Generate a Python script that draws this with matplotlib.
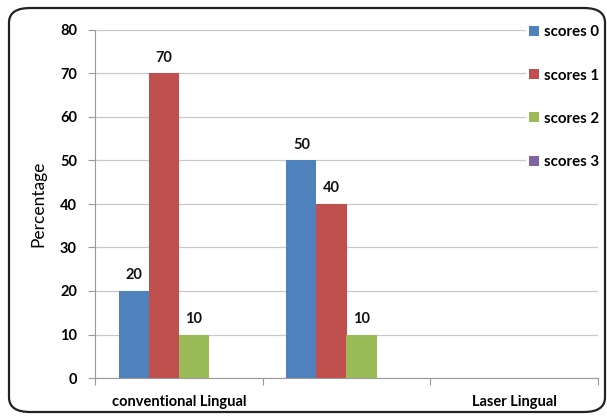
import numpy as np
import matplotlib.pyplot as plt
from matplotlib.patches import Patch, FancyBboxPatch

groups = ["conventional Lingual", "", "Laser Lingual"]
series = ["scores 0", "scores 1", "scores 2", "scores 3"]
scores0 = [20, 50, 0]
scores1 = [70, 40, 0]
scores2 = [10, 10, 0]
scores3 = [0, 0, 0]

colors = ["#4F81BD", "#C0504D", "#9BBB59", "#8064A2"]
values = [scores0, scores1, scores2, scores3]

plt.rcParams['font.family'] = ['Lato', 'DejaVu Sans']

fig = plt.figure(figsize=(6.07, 4.17), dpi=100)
W, H = 607.0, 417.0
ax = fig.add_axes([95 / W, 1 - 378 / H, (598 - 95) / W, (378 - 30) / H])

# rounded outer frame
frame = FancyBboxPatch((9 / W, 5 / H), (596 / W), (404 / H),
                       boxstyle="round,pad=0,rounding_size=0.035",
                       transform=fig.transFigure, facecolor="none",
                       edgecolor="#222222", linewidth=1.6, zorder=0)
fig.patches.append(frame)

x = np.arange(len(groups))
w = 0.179
for i, (vals, c) in enumerate(zip(values, colors)):
    pos = x + (i - 1.5) * w
    ax.bar(pos, vals, width=w, color=c, zorder=3)
    for p, v in zip(pos, vals):
        if v > 0:
            ax.annotate(str(v), (p, v), xytext=(0, 11.5), textcoords="offset points",
                        ha="center", va="center", fontsize=10.5, fontweight="bold",
                        color="#111111")

ax.set_xlim(-0.5, 2.5)
ax.set_ylim(0, 80)
ax.set_yticks(range(0, 81, 10))
ax.yaxis.grid(True, color="#C8C8C8", linewidth=0.9, zorder=0)
ax.set_axisbelow(True)

# boundary ticks between categories, labels centred on categories
ax.set_xticks([-0.5, 0.5, 1.5, 2.5])
ax.set_xticklabels([])
ax.set_xticks(x, minor=True)
ax.set_xticklabels(groups, minor=True, fontsize=10.5, fontweight="bold")
ax.tick_params(axis="x", which="minor", length=0, pad=12)
ax.tick_params(axis="x", which="major", length=5, color="#999999")
ax.tick_params(axis="y", length=5, color="#999999", labelsize=10.5, pad=8)
for lab in ax.get_yticklabels():
    lab.set_fontweight("bold")

for s in ["top", "right"]:
    ax.spines[s].set_visible(False)
ax.spines["left"].set_color("#999999")
ax.spines["bottom"].set_color("#999999")

ax.set_ylabel("Percentage", fontsize=12.5, labelpad=10)

handles = [Patch(facecolor=c) for c in colors]
leg = fig.legend(handles, series, loc="upper left",
                 bbox_to_anchor=(518 / W, 1 - 14 / H),
                 frameon=True, facecolor="white", edgecolor="none", framealpha=1,
                 handlelength=0.65, handleheight=0.65, handletextpad=0.3,
                 labelspacing=1.95, borderpad=0.25,
                 prop={"weight": "bold", "size": 10.8})
leg.get_frame().set_boxstyle("square", pad=0)

fig.savefig("out.png", dpi=100)
